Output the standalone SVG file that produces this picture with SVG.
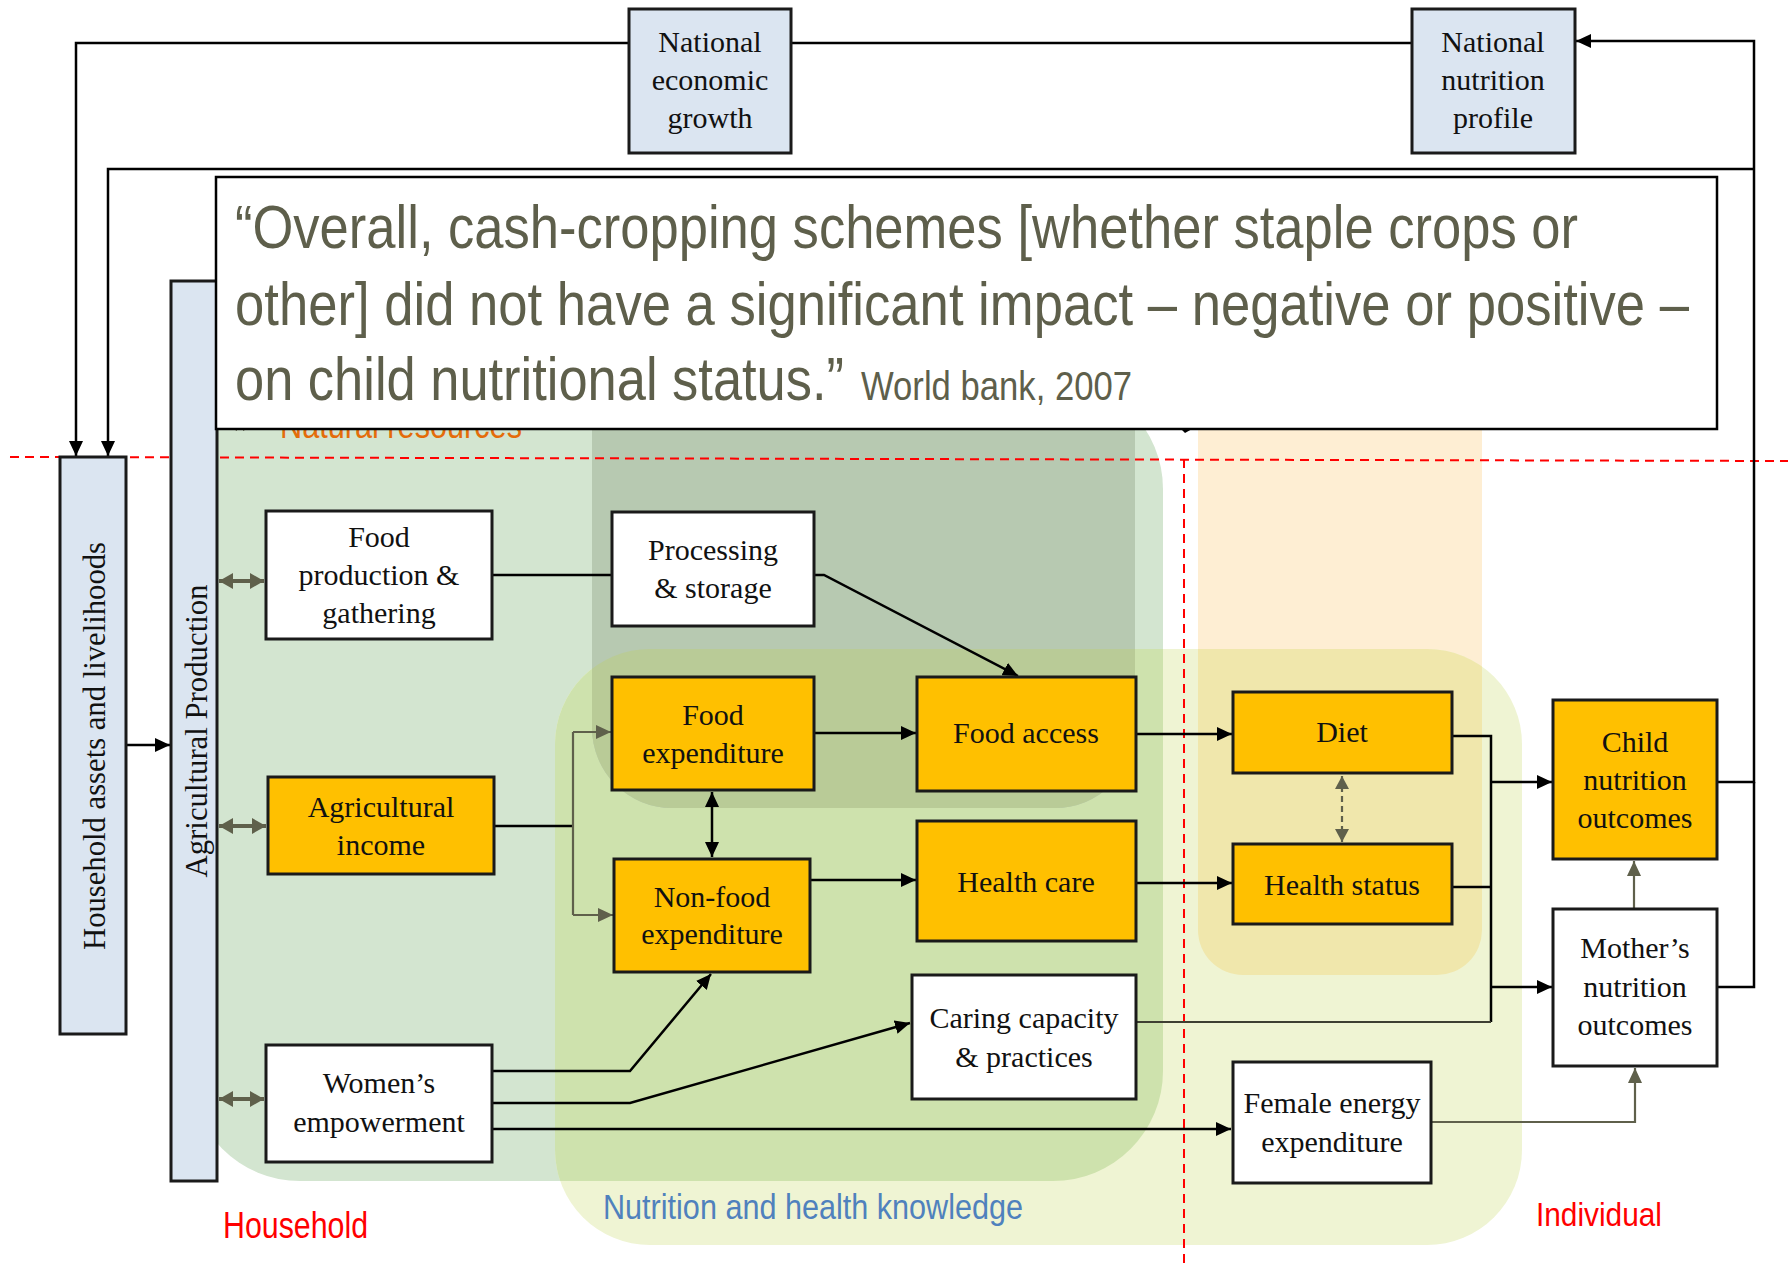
<svg xmlns="http://www.w3.org/2000/svg" width="1788" height="1263" viewBox="0 0 1788 1263">
<style>
.box{stroke:#1a1a1a;stroke-width:3}
.blue{fill:#DBE5F1}
.org{fill:#FFC000}
.wht{fill:#FFFFFF}
.nt{font-family:"Liberation Serif","Times New Roman",serif;font-size:30px;fill:#111;text-anchor:middle}
.vt{font-family:"Liberation Serif","Times New Roman",serif;font-size:31px;fill:#111;text-anchor:middle}
.ln{fill:none;stroke:#000;stroke-width:2.5}
.gl{fill:none;stroke:#5F604B;stroke-width:2.2}
.gd{fill:none;stroke:#5F604B;stroke-width:4}
.red{fill:none;stroke:#FF0000;stroke-width:2;stroke-dasharray:9 6}
.q{font-family:"Liberation Sans Narrow","Arial Narrow","Liberation Sans",sans-serif;fill:#5E5F4B}
.lab{font-family:"Liberation Sans Narrow","Arial Narrow","Liberation Sans",sans-serif}
</style>
<defs>
<marker id="ab" markerUnits="userSpaceOnUse" markerWidth="16" markerHeight="14" refX="15" refY="7" orient="auto"><path d="M0,0 L15,7 L0,14 z" fill="#000"/></marker>
<marker id="abs" markerUnits="userSpaceOnUse" markerWidth="16" markerHeight="14" refX="15" refY="7" orient="auto-start-reverse"><path d="M0,0 L15,7 L0,14 z" fill="#000"/></marker>
<marker id="ag" markerUnits="userSpaceOnUse" markerWidth="16" markerHeight="14" refX="15" refY="7" orient="auto"><path d="M0,0 L15,7 L0,14 z" fill="#5F604B"/></marker>
<marker id="ags" markerUnits="userSpaceOnUse" markerWidth="16" markerHeight="16" refX="14" refY="8" orient="auto-start-reverse"><path d="M0,0 L14,8 L0,16 z" fill="#5F604B"/></marker>
<marker id="agd" markerUnits="userSpaceOnUse" markerWidth="14" markerHeight="14" refX="13" refY="7" orient="auto-start-reverse"><path d="M0,0 L13,7 L0,14 z" fill="#5F604B"/></marker>
<clipPath id="clipG"><rect x="190" y="379" width="973" height="802" rx="110"/></clipPath>
<clipPath id="clipN"><rect x="555" y="649" width="967" height="596" rx="95"/></clipPath>
</defs>

<g id="regions">
<rect x="190" y="379" width="973" height="802" rx="110" fill="#D3E5D0"/>
<rect x="1198" y="300" width="284" height="675" rx="45" fill="#FEEED3"/>
<rect x="555" y="649" width="967" height="596" rx="95" fill="#EFF4D3"/>
<rect x="555" y="649" width="967" height="596" rx="95" fill="#CEE2AD" clip-path="url(#clipG)"/>
<rect x="1198" y="300" width="284" height="675" rx="45" fill="#F0E7AC" clip-path="url(#clipN)"/>
<rect x="592" y="300" width="543" height="508" rx="80" fill="#B7C9B1"/>
<rect x="592" y="300" width="543" height="508" rx="80" fill="#B9CB97" clip-path="url(#clipN)"/>
</g>

<g id="natural-resources">
<text class="lab" x="280" y="438" font-size="37" fill="#E46C0A" textLength="242" lengthAdjust="spacingAndGlyphs">Natural resources</text>
<path class="gd" d="M224,424 H256" marker-start="url(#agd)" marker-end="url(#agd)"/>
<polygon points="1181,429 1192,429 1185,433" fill="#000"/>
</g>

<g id="dividers">
<path class="red" d="M10,457 L1788,461"/>
<path class="red" d="M1184,459 V1263"/>
</g>

<g id="connectors">
<path class="ln" d="M1412,43 H76 V456" marker-end="url(#ab)"/>
<path class="ln" d="M1754,169 H108 V456" marker-end="url(#ab)"/>
<path class="ln" d="M1717,782 H1754 V41 H1576" marker-end="url(#ab)"/>
<path class="ln" d="M1717,987 H1754 V782"/>
<path class="ln" d="M126,745 H170" marker-end="url(#ab)"/>
<path class="gd" d="M219,581 H264" marker-start="url(#ags)" marker-end="url(#ags)"/>
<path class="gd" d="M219,826 H266" marker-start="url(#ags)" marker-end="url(#ags)"/>
<path class="gd" d="M219,1099 H264" marker-start="url(#ags)" marker-end="url(#ags)"/>
<path class="ln" d="M492,575 H612"/>
<path class="ln" d="M814,575 H824 L1018,676" marker-end="url(#ab)"/>
<path class="ln" d="M494,826 H573"/>
<path class="gl" d="M573,732 V915"/>
<path class="gl" d="M573,732 H611" marker-end="url(#ag)"/>
<path class="gl" d="M573,915 H613" marker-end="url(#ag)"/>
<path class="ln" d="M814,733 H916" marker-end="url(#ab)"/>
<path class="ln" d="M712,792 V857" marker-start="url(#abs)" marker-end="url(#abs)"/>
<path class="ln" d="M810,880 H916" marker-end="url(#ab)"/>
<path class="ln" d="M1136,734 H1232" marker-end="url(#ab)"/>
<path class="ln" d="M1136,883 H1232" marker-end="url(#ab)"/>
<path class="gl" d="M1342,776 V842" stroke-dasharray="6 4" marker-start="url(#agd)" marker-end="url(#agd)"/>
<path class="ln" d="M1452,736 H1491 V1022"/>
<path class="ln" d="M1452,887 H1491"/>
<path class="ln" d="M1491,782 H1552" marker-end="url(#ab)"/>
<path class="ln" d="M1491,987 H1552" marker-end="url(#ab)"/>
<path fill="none" stroke="#3E3F32" stroke-width="2" d="M1136,1022 H1491"/>
<path class="gl" d="M1634,909 V861" marker-end="url(#ag)"/>
<path class="ln" d="M492,1071 H630 L711,974" marker-end="url(#ab)"/>
<path class="ln" d="M492,1103 H630 L910,1023" marker-end="url(#ab)"/>
<path class="ln" d="M492,1129 H1231" marker-end="url(#ab)"/>
<path class="gl" d="M1431,1122 H1635 V1068" marker-end="url(#ag)"/>
</g>

<g id="n-national-economic-growth">
<rect class="box blue" x="629" y="9" width="162" height="144"/>
<text class="nt" x="710" y="52">National</text>
<text class="nt" x="710" y="90">economic</text>
<text class="nt" x="710" y="128">growth</text>
</g>
<g id="n-national-nutrition-profile">
<rect class="box blue" x="1412" y="9" width="163" height="144"/>
<text class="nt" x="1493" y="52">National</text>
<text class="nt" x="1493" y="90">nutrition</text>
<text class="nt" x="1493" y="128">profile</text>
</g>
<g id="n-household-assets">
<rect class="box blue" x="60" y="457" width="66" height="577"/>
<text class="vt" transform="translate(105,746) rotate(-90)" textLength="408" lengthAdjust="spacingAndGlyphs">Household assets and livelihoods</text>
</g>
<g id="n-agricultural-production">
<rect class="box blue" x="171" y="281" width="46" height="900"/>
<text class="vt" transform="translate(207,731) rotate(-90)" textLength="293" lengthAdjust="spacingAndGlyphs">Agricultural Production</text>
</g>
<g id="n-food-production">
<rect class="box wht" x="266" y="511" width="226" height="128"/>
<text class="nt" x="379" y="547">Food</text>
<text class="nt" x="379" y="585">production &amp;</text>
<text class="nt" x="379" y="623">gathering</text>
</g>
<g id="n-processing">
<rect class="box wht" x="612" y="512" width="202" height="114"/>
<text class="nt" x="713" y="560">Processing</text>
<text class="nt" x="713" y="598">&amp; storage</text>
</g>
<g id="n-food-expenditure">
<rect class="box org" x="612" y="677" width="202" height="113"/>
<text class="nt" x="713" y="725">Food</text>
<text class="nt" x="713" y="763">expenditure</text>
</g>
<g id="n-food-access">
<rect class="box org" x="917" y="677" width="219" height="114"/>
<text class="nt" x="1026" y="743">Food access</text>
</g>
<g id="n-agricultural-income">
<rect class="box org" x="268" y="777" width="226" height="97"/>
<text class="nt" x="381" y="817">Agricultural</text>
<text class="nt" x="381" y="855">income</text>
</g>
<g id="n-non-food-expenditure">
<rect class="box org" x="614" y="859" width="196" height="113"/>
<text class="nt" x="712" y="907">Non-food</text>
<text class="nt" x="712" y="944">expenditure</text>
</g>
<g id="n-health-care">
<rect class="box org" x="917" y="821" width="219" height="120"/>
<text class="nt" x="1026" y="892">Health care</text>
</g>
<g id="n-womens-empowerment">
<rect class="box wht" x="266" y="1045" width="226" height="117"/>
<text class="nt" x="379" y="1093">Women’s</text>
<text class="nt" x="379" y="1132">empowerment</text>
</g>
<g id="n-caring-capacity">
<rect class="box wht" x="912" y="975" width="224" height="124"/>
<text class="nt" x="1024" y="1028">Caring capacity</text>
<text class="nt" x="1024" y="1067">&amp; practices</text>
</g>
<g id="n-diet">
<rect class="box org" x="1233" y="692" width="219" height="81"/>
<text class="nt" x="1342" y="742">Diet</text>
</g>
<g id="n-health-status">
<rect class="box org" x="1233" y="844" width="219" height="80"/>
<text class="nt" x="1342" y="895">Health status</text>
</g>
<g id="n-female-energy">
<rect class="box wht" x="1233" y="1062" width="198" height="121"/>
<text class="nt" x="1332" y="1113">Female energy</text>
<text class="nt" x="1332" y="1152">expenditure</text>
</g>
<g id="n-child-nutrition">
<rect class="box org" x="1553" y="700" width="164" height="159"/>
<text class="nt" x="1635" y="752">Child</text>
<text class="nt" x="1635" y="790">nutrition</text>
<text class="nt" x="1635" y="828">outcomes</text>
</g>
<g id="n-mothers-nutrition">
<rect class="box wht" x="1553" y="909" width="164" height="157"/>
<text class="nt" x="1635" y="958">Mother’s</text>
<text class="nt" x="1635" y="997">nutrition</text>
<text class="nt" x="1635" y="1035">outcomes</text>
</g>

<g id="quote">
<rect x="216" y="177" width="1501" height="252" fill="#FFFFFF" stroke="#000" stroke-width="2.5"/>
<text class="q" x="235" y="248" font-size="61" textLength="1343" lengthAdjust="spacingAndGlyphs">“Overall, cash-cropping schemes [whether staple crops or</text>
<text class="q" x="235" y="325" font-size="61" textLength="1454" lengthAdjust="spacingAndGlyphs">other] did not have a significant impact – negative or positive –</text>
<text class="q" x="235" y="400" font-size="61" textLength="609" lengthAdjust="spacingAndGlyphs">on child nutritional status.”</text>
<text class="q" x="861" y="400" font-size="40" textLength="271" lengthAdjust="spacingAndGlyphs">World bank, 2007</text>
</g>

<g id="region-labels">
<text class="lab" x="223" y="1238" font-size="36" fill="#FF0000" textLength="145" lengthAdjust="spacingAndGlyphs">Household</text>
<text class="lab" x="603" y="1219" font-size="35" fill="#4F81BD" textLength="420" lengthAdjust="spacingAndGlyphs">Nutrition and health knowledge</text>
<text class="lab" x="1536" y="1226" font-size="34" fill="#FF0000" textLength="126" lengthAdjust="spacingAndGlyphs">Individual</text>
</g>
</svg>
